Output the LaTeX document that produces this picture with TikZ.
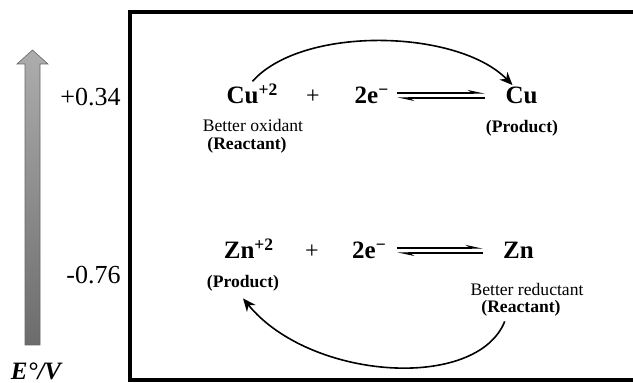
\documentclass[tikz,border=0pt]{standalone}
\usepackage{fontspec}
\setmainfont{Liberation Serif}
\usetikzlibrary{arrows.meta}

\definecolor{bartop}{HTML}{ADADAD}
\definecolor{barbottom}{HTML}{6C6C6C}

\begin{document}
\begin{tikzpicture}[x=0.5pt,y=-0.5pt,>=Stealth,
    species/.style={font=\fontsize{12.5}{15}\selectfont\bfseries,inner sep=1pt},
    plain/.style={font=\fontsize{12}{14}\selectfont,inner sep=1pt},
    note/.style={font=\fontsize{8.8}{10}\selectfont,inner sep=0.5pt},
    role/.style={font=\fontsize{8.8}{10}\selectfont\bfseries,inner sep=0.5pt},
    potlabel/.style={font=\fontsize{13}{15}\selectfont,anchor=east,inner sep=0pt},
    transfer/.style={line width=0.8pt,-{Stealth[length=6.5pt,width=5.5pt]}},
    harpoon/.style={line width=0.7pt,-{Stealth[left,length=7pt,width=3pt]}}]
  \useasboundingbox (0,0) rectangle (633,383);

  % potential scale
  \shade[top color=bartop,bottom color=barbottom,draw=gray!80!black,line width=0.3pt]
    (25,345) -- (25,64) -- (17,64) -- (32.5,50) -- (48,64) -- (40,64) -- (40,345) -- cycle;
  \node[potlabel] (cuval) at (121,97) {+0.34};
  \node[potlabel] (znval) at (121,275) {-0.76};
  \node[font=\fontsize{12.5}{14}\selectfont\bfseries\itshape,inner sep=0pt] (unit) at (36,371) {E°/V};

  % frame
  \draw[line width=1.8pt] (633,12) -- (130,12) -- (130,380) -- (633,380);

  % copper half reaction
  \node[species,anchor=base] (cuion) at (252.5,104) {Cu\textsuperscript{+2}};
  \node[plain,anchor=base] (plusA) at (313,104) {+};
  \node[species,anchor=base] (elecA) at (372,104) {2e\textsuperscript{−}};
  \node[species,anchor=base] (cumetal) at (521.5,104) {Cu};
  \node[note] (oxidant) at (253,125) {Better oxidant};
  \node[role] (reactA) at (247,145) {(Reactant)};
  \node[role] (prodA) at (522,128) {(Product)};
  \draw[harpoon] ([shift={(25,-11)}]elecA.base) -- ([shift={(-36.5,-11)}]cumetal.base);
  \draw[harpoon] ([shift={(-36.5,-6)}]cumetal.base) -- ([shift={(25,-6)}]elecA.base);

  % zinc half reaction
  \node[species,anchor=base] (znion) at (249,259) {Zn\textsuperscript{+2}};
  \node[plain,anchor=base] (plusB) at (312,259) {+};
  \node[species,anchor=base] (elecB) at (369.5,259) {2e\textsuperscript{−}};
  \node[species,anchor=base] (znmetal) at (518.5,259) {Zn};
  \node[role] (prodB) at (243,283) {(Product)};
  \node[note] (reductant) at (527,289) {Better reductant};
  \node[role] (reactB) at (521,308) {(Reactant)};
  \draw[harpoon] ([shift={(27.5,-11)}]elecB.base) -- ([shift={(-35.5,-11)}]znmetal.base);
  \draw[harpoon] ([shift={(-35.5,-6)}]znmetal.base) -- ([shift={(27.5,-6)}]elecB.base);

  % electron flow
  \draw[transfer] (cuion.north) .. controls +(50,-56) and +(-55,-56) .. ([xshift=-4.5pt]cumetal.north);
  \draw[transfer] ([yshift=-2pt]reactB.210) .. controls +(-28,70) and +(67,82) .. ([yshift=-3pt]prodB.south);
\end{tikzpicture}
\end{document}
